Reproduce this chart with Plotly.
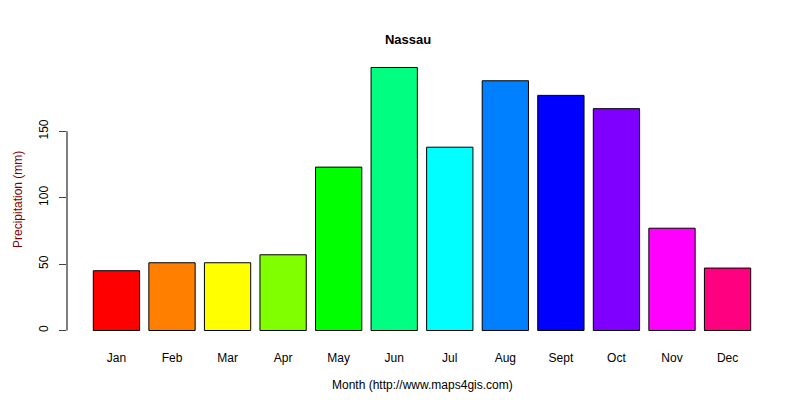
import plotly.graph_objects as go

months = ["Jan","Feb","Mar","Apr","May","Jun","Jul","Aug","Sept","Oct","Nov","Dec"]
precip = [45, 51, 51, 57, 123, 198, 138, 188, 177, 167, 77, 47]
colors = ["#FF0000","#FF8000","#FFFF00","#80FF00","#00FF00","#00FF80",
          "#00FFFF","#0080FF","#0000FF","#8000FF","#FF00FF","#FF0080"]
yticks = [0, 50, 100, 150]

font = "Liberation Sans, Arial, sans-serif"
fig = go.Figure(go.Bar(x=months, y=precip, marker=dict(color=colors, line=dict(color="black", width=1))))
fig.update_layout(
    width=800, height=400, plot_bgcolor="white", paper_bgcolor="white",
    margin=dict(l=59, r=31, t=48.5, b=66.5), bargap=1/6, showlegend=False,
    font=dict(family=font, size=12, color="black"),
    title=dict(text="<b>Nassau</b>", x=0.5, xanchor="center", y=1-31/400, yanchor="middle",
               font=dict(size=13)),
    xaxis=dict(range=[-0.89, 11.89], showline=False, ticks="", showgrid=False,
               zeroline=False, ticklabelstandoff=8),
    yaxis=dict(range=[-7.9, 205.9], tickvals=yticks, ticks="outside", ticklen=7,
               showgrid=False, zeroline=False, showline=False, tickangle=-90,
               ticklabelstandoff=6),
    shapes=[dict(type="line", xref="paper", yref="y", x0=0, x1=0, y0=0, y1=150,
                 line=dict(color="black", width=1))],
    annotations=[
        dict(text="Month (http://www.maps4gis.com)", xref="paper", yref="paper",
             x=0.5, y=-(378-333.5)/285, showarrow=False, yanchor="middle"),
        dict(text="Precipitation (mm)", xref="paper", yref="paper", x=-(49/710),
             y=0.5, textangle=-90, showarrow=False, xanchor="center",
             font=dict(color="#800000")),
    ],
)
fig.write_html("out.html")
